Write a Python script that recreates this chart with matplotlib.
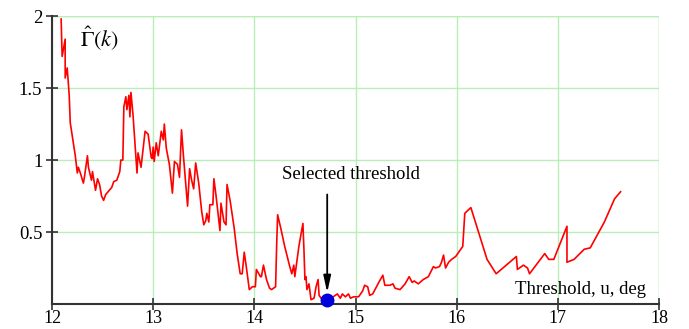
import matplotlib.pyplot as plt

# threshold u (deg) and estimator values
u = [12.09, 12.10, 12.13, 12.13, 12.15, 12.17, 12.18, 12.23, 12.25, 12.26, 12.28, 12.31,
     12.32, 12.35, 12.36, 12.39, 12.40, 12.43, 12.45, 12.47, 12.49, 12.51, 12.53, 12.59,
     12.61, 12.64, 12.67, 12.68, 12.70, 12.71, 12.73, 12.74, 12.76, 12.77, 12.78, 12.80,
     12.82, 12.84, 12.85, 12.88, 12.92, 12.95, 12.98, 12.99, 13.00, 13.01, 13.03, 13.05,
     13.08, 13.10, 13.11, 13.13, 13.16, 13.19, 13.21, 13.24, 13.26, 13.28, 13.30, 13.34,
     13.36, 13.38, 13.40, 13.42, 13.45, 13.48, 13.50, 13.52, 13.53, 13.55, 13.56, 13.59,
     13.60, 13.62, 13.66, 13.67, 13.70, 13.72, 13.73, 13.76, 13.80, 13.83, 13.86, 13.88,
     13.90, 13.92, 13.95, 13.98, 14.01, 14.02, 14.06, 14.07, 14.09, 14.12, 14.15, 14.17,
     14.21, 14.22, 14.23, 14.26, 14.30, 14.35, 14.37, 14.39, 14.40, 14.44, 14.48, 14.49,
     14.50, 14.51, 14.52, 14.54, 14.56, 14.59, 14.61, 14.63, 14.64, 14.66, 14.69, 14.72,
     14.78, 14.82, 14.85, 14.87, 14.90, 14.93, 14.95, 14.98, 15.03, 15.07, 15.09, 15.12,
     15.14, 15.17, 15.23, 15.27, 15.29, 15.34, 15.37, 15.39, 15.44, 15.49, 15.53, 15.56,
     15.58, 15.62, 15.67, 15.72, 15.77, 15.79, 15.83, 15.85, 15.87, 15.89, 15.92, 15.95,
     15.99, 16.02, 16.06, 16.08, 16.14, 16.30, 16.39, 16.59, 16.60, 16.66, 16.70, 16.72,
     16.87, 16.91, 16.96, 17.09, 17.09, 17.16, 17.26, 17.32, 17.46, 17.56, 17.62]
gamma = [1.98, 1.72, 1.84, 1.57, 1.64, 1.45, 1.26, 1.03, 0.91, 0.95, 0.91, 0.84,
         0.88, 1.03, 0.95, 0.86, 0.92, 0.79, 0.87, 0.83, 0.75, 0.72, 0.76, 0.81,
         0.85, 0.86, 0.92, 1.00, 1.00, 1.37, 1.44, 1.35, 1.45, 1.30, 1.47, 1.32,
         1.12, 0.91, 1.05, 0.95, 1.20, 1.18, 1.02, 1.01, 1.09, 0.99, 1.12, 1.03,
         1.20, 1.14, 1.25, 1.08, 0.97, 0.77, 0.99, 0.97, 0.88, 1.21, 1.02, 0.68,
         0.94, 0.86, 0.80, 0.98, 0.84, 0.64, 0.55, 0.58, 0.63, 0.57, 0.69, 0.69,
         0.87, 0.76, 0.51, 0.70, 0.57, 0.55, 0.83, 0.72, 0.53, 0.35, 0.21, 0.21,
         0.36, 0.26, 0.10, 0.12, 0.12, 0.24, 0.19, 0.19, 0.27, 0.17, 0.11, 0.10,
         0.12, 0.40, 0.62, 0.53, 0.40, 0.26, 0.21, 0.27, 0.19, 0.40, 0.56, 0.38,
         0.17, 0.19, 0.10, 0.14, 0.03, 0.04, 0.12, 0.17, 0.06, 0.04, 0.05, 0.03,
         0.05, 0.07, 0.04, 0.07, 0.05, 0.07, 0.04, 0.05, 0.05, 0.09, 0.13, 0.12,
         0.06, 0.07, 0.15, 0.20, 0.13, 0.13, 0.14, 0.11, 0.10, 0.14, 0.19, 0.15,
         0.16, 0.14, 0.17, 0.19, 0.26, 0.25, 0.26, 0.29, 0.34, 0.25, 0.29, 0.31,
         0.33, 0.36, 0.40, 0.63, 0.67, 0.31, 0.21, 0.33, 0.24, 0.27, 0.25, 0.21,
         0.35, 0.31, 0.31, 0.54, 0.29, 0.31, 0.38, 0.39, 0.57, 0.73, 0.78]

sel_u = 14.72
sel_gamma = 0.03

plt.rcParams['font.family'] = ['Liberation Serif', 'DejaVu Serif']
plt.rcParams['mathtext.fontset'] = 'stix'

fig = plt.figure(figsize=(6.89, 3.29), dpi=100)
ax = fig.add_axes([0.0755, 0.076, 0.881, 0.875])

ax.plot(u, gamma, color='#ff0000', lw=1.2, zorder=3)
ax.plot(sel_u, sel_gamma, 'o', color='#0000dd', ms=9, zorder=4, clip_on=False)

ax.annotate('', xy=(sel_u, 0.06), xytext=(sel_u, 0.78),
            arrowprops=dict(arrowstyle='-|>,head_width=0.22,head_length=1.0',
                            color='black', lw=1.3))
ax.text(14.95, 0.90, 'Selected threshold', ha='center', va='center', fontsize=13.5)
ax.text(12.47, 1.85, r'$\hat{\Gamma}(k)$', ha='center', va='center', fontsize=16)
ax.text(17.22, 0.10, 'Threshold, u, deg', ha='center', va='center', fontsize=13.5)

ax.set_xlim(12, 18)
ax.set_ylim(0, 2)
ax.set_xticks([12, 13, 14, 15, 16, 17, 18])
ax.set_yticks([0.5, 1, 1.5, 2])
ax.set_yticklabels(['0.5', '1', '1.5', '2'])
ax.grid(True, color='#b8eeb8', lw=1.0)
ax.set_axisbelow(True)

ax.spines['top'].set_visible(False)
ax.spines['right'].set_visible(False)
ax.spines['left'].set_color('#333333')
ax.spines['bottom'].set_color('#333333')
ax.spines['left'].set_linewidth(1.5)
ax.spines['bottom'].set_linewidth(1.5)
ax.axhline(2, color='#b8eeb8', lw=1.0, zorder=0)
ax.axvline(18, color='#b8eeb8', lw=1.0, zorder=0)
ax.tick_params(direction='inout', length=8, width=1.2, color='#333333',
               labelsize=13.5)
ax.tick_params(axis='y', pad=3)
ax.tick_params(axis='x', pad=0.5, labelsize=13)

fig.savefig('out.png', dpi=100)
